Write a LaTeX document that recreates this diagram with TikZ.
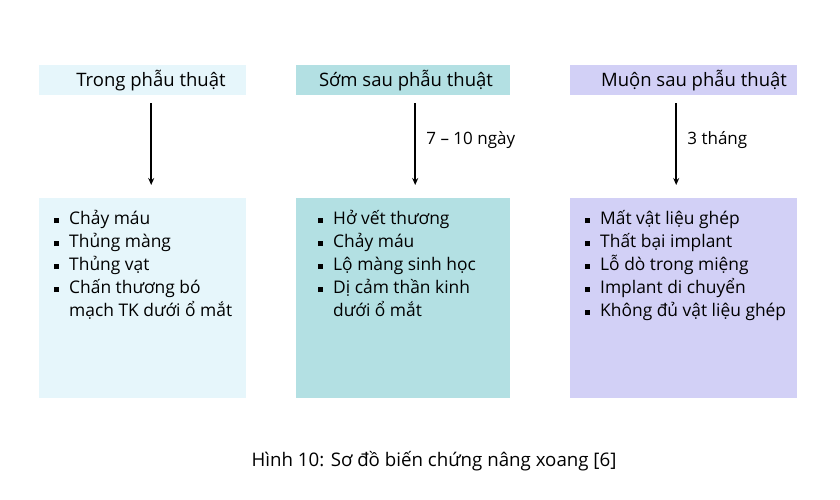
\documentclass[tikz,border=0pt]{standalone}
\usepackage{fontspec}
\setmainfont{Open Sans}
\usetikzlibrary{positioning,arrows.meta}
\definecolor{trongbg}{HTML}{E6F6FB}
\definecolor{sombg}{HTML}{B3E0E3}
\definecolor{muonbg}{HTML}{D2D0F6}
\newcommand{\sqb}{\rule[1pt]{5pt}{5pt}}
\newcommand{\itemtab}[1]{\begin{tabular}[t]{@{}l@{\hspace{10pt}}l@{}}#1\end{tabular}}
\tikzset{
  head/.style={anchor=north west, minimum height=30pt, inner sep=0pt},
  body/.style={anchor=north west, minimum height=200pt, inner sep=0pt},
  headtxt/.style={anchor=base, inner sep=0pt, font=\fontsize{18.5}{20}\selectfont},
  items/.style={anchor=base west, inner sep=0pt, font=\fontsize{17.4}{23}\selectfont},
  lbl/.style={anchor=base west, pos=0.48, xshift=7pt, font=\fontsize{17}{20}\selectfont},
  arr/.style={-{Stealth[length=7pt,width=6pt]}, line width=1.8pt, shorten <=8pt, shorten >=13pt}
}
\begin{document}
\begin{tikzpicture}[x=1pt,y=-1pt]
\useasboundingbox (0,0) rectangle (840,500);
% headers
\node [head, fill=trongbg, minimum width=207pt] (h1) at (39,65) {};
\node [head, fill=sombg, minimum width=214pt] (h2) at (296,65) {};
\node [head, fill=muonbg, minimum width=227pt] (h3) at (570,65) {};
\node [headtxt] (t1) at (151,87) {Trong phẫu thuật};
\node [headtxt] (t2) at (406,87) {Sớm sau phẫu thuật};
\node [headtxt] (t3) at (694,87) {Muộn sau phẫu thuật};
% boxes
\node [body, fill=trongbg, minimum width=207pt] (b1) at (39,198) {};
\node [body, fill=sombg, minimum width=214pt] (b2) at (296,198) {};
\node [body, fill=muonbg, minimum width=227pt] (b3) at (570,198) {};
% arrows
\draw [arr] ([xshift=8.5pt]h1.south) -- ([xshift=8.5pt]b1.north);
\draw [arr] ([xshift=12pt]h2.south) -- node[lbl]{7 – 10 ngày} ([xshift=12pt]b2.north);
\draw [arr] ([xshift=-7.5pt]h3.south) -- node[lbl]{3 tháng} ([xshift=-7.5pt]b3.north);
% lists
\node [items] (l1) at (54,224) {\itemtab{\sqb & Chảy máu\\ \sqb & Thủng màng\\ \sqb & Thủng vạt\\ \sqb & Chấn thương bó\\ & mạch TK dưới ổ mắt}};
\node [items] (l2) at (318,224) {\itemtab{\sqb & Hở vết thương\\ \sqb & Chảy máu\\ \sqb & Lộ màng sinh học\\ \sqb & Dị cảm thần kinh\\ & dưới ổ mắt}};
\node [items] (l3) at (585,224) {\itemtab{\sqb & Mất vật liệu ghép\\ \sqb & Thất bại implant\\ \sqb & Lỗ dò trong miệng\\ \sqb & Implant di chuyển\\ \sqb & Không đủ vật liệu ghép}};
% caption
\node [anchor=base, inner sep=0pt, font=\fontsize{18.7}{20}\selectfont] (cap) at (434,466) {Hình 10: Sơ đồ biến chứng nâng xoang [6]};
\end{tikzpicture}
\end{document}
